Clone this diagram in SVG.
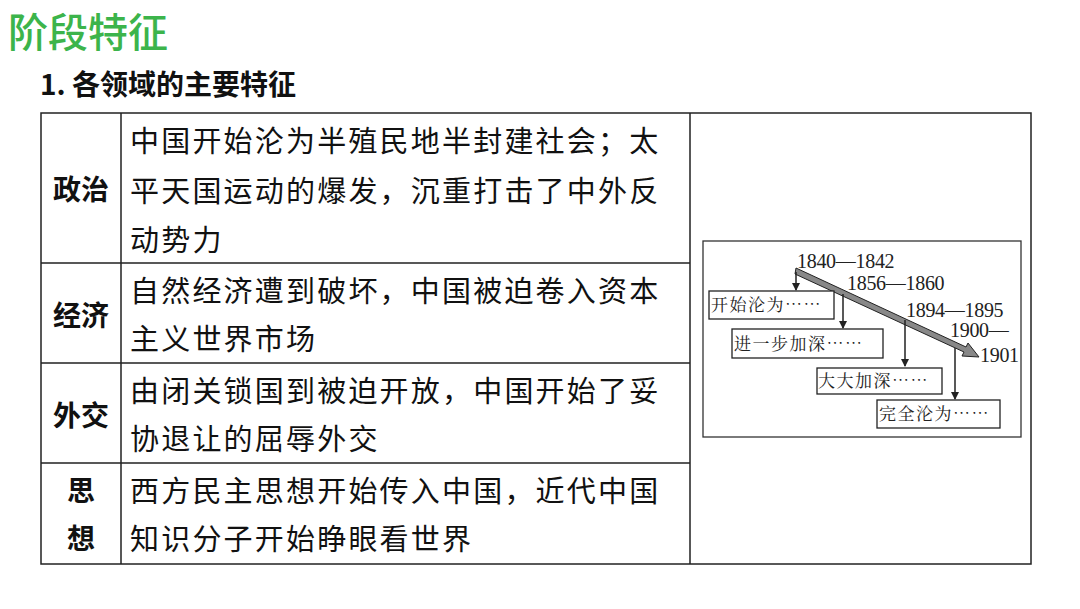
<svg xmlns="http://www.w3.org/2000/svg" width="1080" height="609" viewBox="0 0 1080 609">
<style>
.t{font-family:"Noto Sans CJK SC",sans-serif;font-size:29px;letter-spacing:2.2px;fill:#111}
.h{font-family:"Noto Sans CJK SC",sans-serif;font-size:28px;font-weight:bold;fill:#111;text-anchor:middle}
.n{font-family:"Liberation Serif","Noto Serif CJK SC",serif;font-size:20px;letter-spacing:-0.3px;fill:#222}
.b{font-family:"Noto Serif CJK SC","Noto Sans CJK SC",serif;font-size:17px;letter-spacing:1.5px;fill:#222}
.bx{fill:#fff;stroke:#222;stroke-width:1.3}
.ln{stroke:#222;stroke-width:1.5;fill:none}
</style>
<defs><marker id="a" markerWidth="8" markerHeight="8" refX="7" refY="4" orient="auto" markerUnits="userSpaceOnUse"><path d="M0,0L8,4L0,8z" fill="#222"/></marker></defs>
<rect width="1080" height="609" fill="#fff"/>
<text x="8" y="47" font-family="Noto Sans CJK SC,sans-serif" font-size="40" font-weight="500" fill="#3cb44b">阶段特征</text>
<text x="40" y="95" font-family="Noto Sans CJK SC,sans-serif" font-size="28" font-weight="bold" fill="#111">1. 各领域的主要特征</text>
<g id="table">
<rect x="41" y="113" width="990" height="451" fill="none" stroke="#222" stroke-width="1.5"/>
<path class="ln" d="M121,113V564M690,113V564M41,263H690M41,363H690M41,463H690"/>
<text class="h" x="81" y="200">政治</text>
<text class="h" x="81" y="326">经济</text>
<text class="h" x="81" y="426">外交</text>
<text class="h" x="81" y="501">思</text><text class="h" x="81" y="549">想</text>
<text class="t" x="130" y="152">中国开始沦为半殖民地半封建社会；太</text>
<text class="t" x="130" y="202">平天国运动的爆发，沉重打击了中外反</text>
<text class="t" x="130" y="251">动势力</text>
<text class="t" x="130" y="302">自然经济遭到破坏，中国被迫卷入资本</text>
<text class="t" x="130" y="350">主义世界市场</text>
<text class="t" x="130" y="402">由闭关锁国到被迫开放，中国开始了妥</text>
<text class="t" x="130" y="450">协退让的屈辱外交</text>
<text class="t" x="130" y="502">西方民主思想开始传入中国，近代中国</text>
<text class="t" x="130" y="550">知识分子开始睁眼看世界</text>
</g>
<g id="chart">
<rect x="703" y="241" width="318" height="196" fill="#fff" stroke="#333" stroke-width="1.3"/>
<g id="connectors">
<path d="M796,268L966,347L968,343L979,357L962,356L964,352L795,274z" fill="#888" stroke="#222" stroke-width="1"/>
<path class="ln" d="M796,272V290" marker-end="url(#a)"/>
<path class="ln" d="M843,294V328" marker-end="url(#a)"/>
<path class="ln" d="M905,320V366" marker-end="url(#a)"/>
<path class="ln" d="M955,348V399" marker-end="url(#a)"/>
</g>
<text class="n" x="797" y="268">1840—1842</text>
<text class="n" x="847" y="290">1856—1860</text>
<text class="n" x="906" y="317">1894—1895</text>
<text class="n" x="950" y="337">1900—</text>
<text class="n" x="980" y="362">1901</text>
<g id="b1"><rect class="bx" x="709" y="291" width="125" height="28"/><text class="b" x="711" y="311">开始沦为……</text></g>
<g id="b2"><rect class="bx" x="732" y="329" width="151" height="29"/><text class="b" x="734" y="350">进一步加深……</text></g>
<g id="b3"><rect class="bx" x="817" y="368" width="125" height="26"/><text class="b" x="818" y="387">大大加深……</text></g>
<g id="b4"><rect class="bx" x="877" y="400" width="123" height="28"/><text class="b" x="879" y="420">完全沦为……</text></g>
</g>
</svg>
